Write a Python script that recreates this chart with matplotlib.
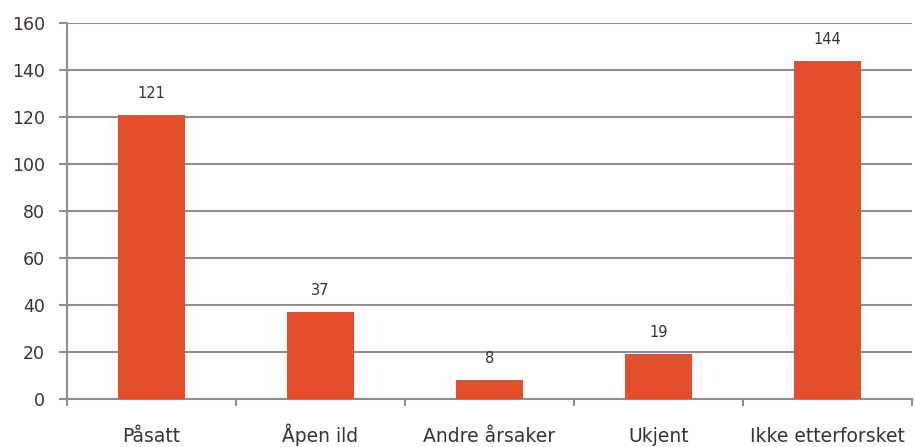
import matplotlib
matplotlib.use("Agg")
import matplotlib.pyplot as plt
import numpy as np

categories = ["Påsatt", "Åpen ild", "Andre årsaker", "Ukjent", "Ikke etterforsket"]
values = [121, 37, 8, 19, 144]
yticks = [0, 20, 40, 60, 80, 100, 120, 140, 160]

bar_color = "#E34F2B"
grid_color = "#8F8F8F"
text_color = "#3B332F"

fig = plt.figure(figsize=(9.15, 4.47), dpi=100)
ax = fig.add_axes([67/915, 48/447, (912-67)/915, (399-23)/447])

x = np.arange(len(categories))
ax.bar(x, values, width=0.4, color=bar_color, zorder=3)
for xi, v in zip(x, values):
    ax.text(xi, v + 6, str(v), ha="center", va="bottom", fontsize=10.5, color=text_color)

ax.set_xlim(-0.5, len(categories) - 0.5)
ax.set_ylim(0, 160)
ax.set_yticks(yticks)
ax.yaxis.grid(True, color=grid_color, linewidth=1.5, zorder=0)
ax.tick_params(axis="y", length=6, width=1.5, color=grid_color, labelsize=12.5, labelcolor=text_color, pad=10)

ax.set_xticks(np.arange(-0.5, len(categories)), labels=[""] * (len(categories) + 1))
ax.tick_params(axis="x", which="major", length=5, width=1.5, color=grid_color, direction="out")
for xi, c in zip(x, categories):
    ax.annotate(c, xy=(xi, 0), xycoords=("data", "axes fraction"),
                xytext=(0, -31), textcoords="offset points",
                ha="center", va="baseline", fontsize=13.5, color=text_color)

for s in ["top", "right"]:
    ax.spines[s].set_visible(False)
for s in ["left", "bottom"]:
    ax.spines[s].set_color(grid_color)
    ax.spines[s].set_linewidth(1.5)

fig.savefig("out.png", dpi=100)
